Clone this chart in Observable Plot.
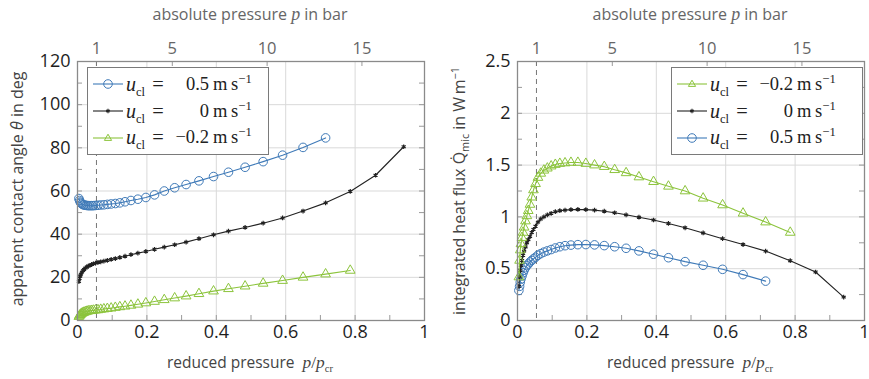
<!DOCTYPE html>
<html>
<head>
<meta charset="utf-8">
<script src="https://cdn.jsdelivr.net/npm/d3@7"></script>
<script src="https://cdn.jsdelivr.net/npm/@observablehq/plot@0.6"></script>
<style>
  body { margin: 0; background: #fff; }
  #fig { position: relative; width: 869px; height: 379px; overflow: hidden; font-family: "Open Sans", sans-serif; }
  #fig svg.panel { position: absolute; top: 0; }
  .lab { position: absolute; white-space: nowrap; line-height: 1; }
  .m { font-family: "Liberation Serif", serif; font-style: italic; font-size: 1.12em; }
  .mu { font-family: "Liberation Serif", serif; font-style: normal; }
  .lab sub, .lab sup, .legend sub, .legend sup { font-size: 0.68em; line-height: 0; }
  .legend { position: absolute; background: #fff; border: 1px solid #7a7a7a; box-sizing: border-box;
            font-family: "Liberation Serif", serif; font-size: 18.5px; color: #222; padding-top: 3px; }
  .legend .row { height: 26.7px; display: flex; align-items: center; white-space: nowrap; }
  .legend .row svg { margin-left: 5px; margin-right: 3px; }
  .legend .u { width: 22px; display: inline-block; }
  .legend .u i { font-size: 1.08em; }
  .legend .eq { width: 20px; display: inline-block; text-align: center; font-size: 1.1em; }
  .legend .val { width: 41px; display: inline-block; text-align: right; }
  .legend .unit { margin-left: 4px; }
</style>
</head>
<body>
<div id="fig"></div>
<script>
// Reduced pressure p/p_cr of the evaluated operating points
const reducedPressure = [0.004, 0.006, 0.008, 0.010, 0.013, 0.016, 0.019, 0.023, 0.027, 0.031,
  0.036, 0.041, 0.046, 0.052, 0.059, 0.067, 0.076, 0.086, 0.097, 0.109,
  0.122, 0.137, 0.154, 0.174, 0.197, 0.222, 0.250, 0.280, 0.313, 0.350,
  0.392, 0.435, 0.483, 0.535, 0.591, 0.650, 0.715, 0.786, 0.859, 0.940];

// Critical pressure (bar), labelled absolute pressures and ambient pressure
const pCritical = 18.3;
const barTicks = [1, 5, 10, 15];
const pAmbient = 1;

// Contact line velocities u_cl in m/s
const velocities = [0.5, 0, -0.2];

// Apparent contact angle in deg
const angleFast = [56.5, 55.6, 54.9, 54.4, 54.0, 53.7, 53.5, 53.4, 53.3, 53.2,
  53.2, 53.2, 53.2, 53.3, 53.4, 53.5, 53.6, 53.8, 54.0, 54.2,
  54.5, 55.0, 55.6, 56.2, 57.0, 58.2, 60.0, 61.5, 63.0, 64.7,
  66.7, 68.7, 71.0, 73.6, 76.6, 80.2, 84.6];
const angleStatic = [18.0, 19.5, 20.6, 21.5, 22.4, 23.1, 23.7, 24.3, 24.8, 25.2,
  25.6, 26.0, 26.3, 26.6, 26.9, 27.2, 27.5, 27.9, 28.3, 28.7,
  29.2, 29.8, 30.5, 31.2, 32.0, 33.0, 34.0, 35.1, 36.3, 37.9,
  39.7, 41.4, 43.1, 45.1, 47.5, 50.7, 54.5, 59.8, 67.3, 80.5];
const angleReceding = [1.8, 2.3, 2.7, 3.0, 3.3, 3.6, 3.8, 4.0, 4.2, 4.4,
  4.5, 4.6, 4.7, 4.8, 4.9, 5.1, 5.3, 5.5, 5.7, 6.0,
  6.3, 6.6, 7.0, 7.5, 8.1, 8.8, 9.6, 10.4, 11.3, 12.4,
  13.6, 14.7, 15.9, 17.2, 18.5, 20.0, 21.5, 23.2];

// Integrated micro-region heat flux in W/m
const fluxFast = [0.29, 0.33, 0.37, 0.40, 0.43, 0.46, 0.485, 0.51, 0.53, 0.545,
  0.565, 0.58, 0.595, 0.61, 0.63, 0.645, 0.66, 0.672, 0.685, 0.70,
  0.712, 0.722, 0.728, 0.732, 0.733, 0.73, 0.723, 0.712, 0.697, 0.672,
  0.64, 0.606, 0.568, 0.533, 0.494, 0.443, 0.38];
const fluxStatic = [0.33, 0.42, 0.48, 0.53, 0.58, 0.63, 0.67, 0.71, 0.75, 0.78,
  0.81, 0.85, 0.88, 0.91, 0.95, 0.98, 1.00, 1.02, 1.035, 1.05,
  1.06, 1.065, 1.07, 1.072, 1.07, 1.065, 1.055, 1.04, 1.02, 0.997,
  0.97, 0.937, 0.895, 0.845, 0.79, 0.733, 0.67, 0.577, 0.468, 0.226];
const fluxReceding = [0.42, 0.58, 0.68, 0.74, 0.80, 0.85, 0.90, 0.96, 1.01, 1.06,
  1.12, 1.19, 1.26, 1.32, 1.38, 1.42, 1.45, 1.47, 1.49, 1.505,
  1.515, 1.52, 1.525, 1.525, 1.515, 1.50, 1.485, 1.455, 1.425, 1.385,
  1.34, 1.295, 1.25, 1.18, 1.115, 1.035, 0.95, 0.85];

const BLUE = "#3f7ab8", BLACK = "#222", GREEN = "#8cc43c";
const GRID = "#d9d9d9", FRAME = "#8a8a8a", TICK = "#9a9a9a";

const rows = values => values.map((v, i) => ({x: reducedPressure[i], y: v}));

function seriesMarks(values, kind) {
  const data = rows(values);
  if (kind === "fast") return [
    Plot.line(data, {x: "x", y: "y", stroke: BLUE, strokeWidth: 1.1}),
    Plot.dot(data, {x: "x", y: "y", r: 4.3, stroke: BLUE, fill: "none", strokeWidth: 1})
  ];
  if (kind === "static") return [
    Plot.line(data, {x: "x", y: "y", stroke: BLACK, strokeWidth: 1.1}),
    Plot.dot(data, {x: "x", y: "y", r: 2.2, symbol: "asterisk", stroke: BLACK, strokeWidth: 1.2})
  ];
  return [
    Plot.line(data, {x: "x", y: "y", stroke: GREEN, strokeWidth: 1.1}),
    Plot.dot(data, {x: "x", y: "y", r: 3.6, symbol: "triangle", stroke: GREEN, fill: "none", strokeWidth: 1})
  ];
}

const MT = 61, MB = 59, H = 379;
const plotH = H - MT - MB;

function panel({left, width, marginLeft, marginRight, yDomain, yMajor, yMinor, series}) {
  const plotW = width - marginLeft - marginRight;
  const xMajor = [0, 0.2, 0.4, 0.6, 0.8, 1];
  const xMinor = d3.range(1, 10).map(i => i / 10);
  const topPos = barTicks.map(p => p / pCritical);
  const svg = Plot.plot({
    width, height: H,
    marginTop: MT, marginBottom: MB, marginLeft, marginRight,
    style: {fontFamily: "'Open Sans', sans-serif", fontSize: "18px", color: "#1e1e1e", background: "transparent", overflow: "visible"},
    x: {domain: [0, 1]},
    y: {domain: yDomain},
    marks: [
      Plot.gridX(xMajor.slice(1, -1), {stroke: GRID, strokeOpacity: 1}),
      Plot.gridY(yMajor.slice(1, -1), {stroke: GRID, strokeOpacity: 1}),
      // inward ticks on all four sides
      Plot.tickX(xMinor, {x: d => d, insetTop: plotH - 5, stroke: TICK}),
      Plot.tickX(topPos, {x: d => d, insetBottom: plotH - 5, stroke: TICK}),
      Plot.tickY(yMinor, {y: d => d, insetRight: plotW - 5, stroke: TICK}),
      Plot.tickY(yMinor, {y: d => d, insetLeft: plotW - 5, stroke: TICK}),
      // ambient pressure
      Plot.ruleX([pAmbient / pCritical], {stroke: "#777", strokeDasharray: "5,4", strokeWidth: 1}),
      ...series.flatMap(([values, kind]) => seriesMarks(values, kind)),
      Plot.frame({stroke: FRAME, strokeWidth: 1.3}),
      Plot.axisX(xMajor, {anchor: "bottom", tickSize: 0, tickPadding: 5, tickFormat: d3.format("~g"), label: null, fontSize: 18}),
      Plot.axisY(yMajor, {anchor: "left", tickSize: 0, tickPadding: 7, tickFormat: d3.format("~g"), label: null, fontSize: 18}),
      Plot.axisX(topPos, {anchor: "top", tickSize: 0, tickPadding: 8, tickFormat: d => String(Math.round(d * pCritical)), label: null, fontSize: 16.5, fill: "#666"})
    ]
  });
  svg.classList.add("panel");
  svg.style.left = left + "px";
  return svg;
}

const fig = document.getElementById("fig");

fig.appendChild(panel({
  left: 0, width: 434, marginLeft: 77, marginRight: 10,
  yDomain: [0, 120], yMajor: d3.range(0, 121, 20), yMinor: d3.range(10, 120, 10),
  series: [[angleReceding, "receding"], [angleStatic, "static"], [angleFast, "fast"]]
}));
fig.appendChild(panel({
  left: 434, width: 435, marginLeft: 83, marginRight: 5,
  yDomain: [0, 2.5], yMajor: [0, 0.5, 1, 1.5, 2, 2.5], yMinor: d3.range(1, 10).map(i => i * 0.25),
  series: [[fluxFast, "fast"], [fluxStatic, "static"], [fluxReceding, "receding"]]
}));

function addLabel(html, cx, cy, {rotate = false, size = 15.5, color = "#444"} = {}) {
  const d = document.createElement("div");
  d.className = "lab";
  d.innerHTML = html;
  Object.assign(d.style, {left: cx + "px", top: cy + "px", fontSize: size + "px", color,
    transform: `translate(-50%, -50%)${rotate ? " rotate(-90deg)" : ""}`});
  fig.appendChild(d);
}

const reducedLabel = 'reduced pressure&nbsp;&nbsp;<span class="m">p</span><span class="mu" style="font-size:1.12em">/</span><span class="m">p</span><sub class="mu">cr</sub>';
const absoluteLabel = 'absolute pressure <span class="m">p</span> in bar';
addLabel(reducedLabel, 250, 363);
addLabel(reducedLabel, 690, 363);
addLabel(absoluteLabel, 250, 15, {color: "#666", size: 16});
addLabel(absoluteLabel, 690, 15, {color: "#666", size: 16});
addLabel('apparent contact angle <i>θ</i> in deg', 17, 189, {rotate: true, size: 16});
addLabel('integrated heat flux Q&#775;<sub>mic</sub> in W&thinsp;m<sup>−1</sup>', 459, 191, {rotate: true, size: 16});

// legends
const fmtVel = v => (v < 0 ? "−" : "") + Math.abs(v);
function sample(kind) {
  const color = kind === "fast" ? BLUE : kind === "static" ? BLACK : GREEN;
  let marker = "";
  if (kind === "fast") marker = `<circle cx="15" cy="7" r="4.3" fill="none" stroke="${color}"/>`;
  else if (kind === "static") marker = `<path d="M15,4.8V9.2M13.1,5.9L16.9,8.1M13.1,8.1L16.9,5.9" stroke="${color}" stroke-width="1.2"/>`;
  else marker = `<path d="M15,3.2L18.6,9.4L11.4,9.4Z" fill="none" stroke="${color}"/>`;
  return `<svg width="30" height="14"><line x1="0" y1="7" x2="30" y2="7" stroke="${color}" stroke-width="1.1"/>${marker}</svg>`;
}
function legend(order, left, top, width) {
  const kinds = {"0.5": "fast", "0": "static", "-0.2": "receding"};
  const d = document.createElement("div");
  d.className = "legend";
  Object.assign(d.style, {left: left + "px", top: top + "px", width: width + "px", height: "88px"});
  d.innerHTML = order.map(v => `<div class="row">${sample(kinds[String(v)])}` +
    `<span class="u"><i>u</i><sub>cl</sub></span><span class="eq">=</span>` +
    `<span class="val">${fmtVel(v)}</span><span class="unit">m&thinsp;s<sup>−1</sup></span></div>`).join("");
  fig.appendChild(d);
}
legend(velocities, 87, 67, 182);
legend([...velocities].reverse(), 671, 67, 192);
</script>
</body>
</html>
